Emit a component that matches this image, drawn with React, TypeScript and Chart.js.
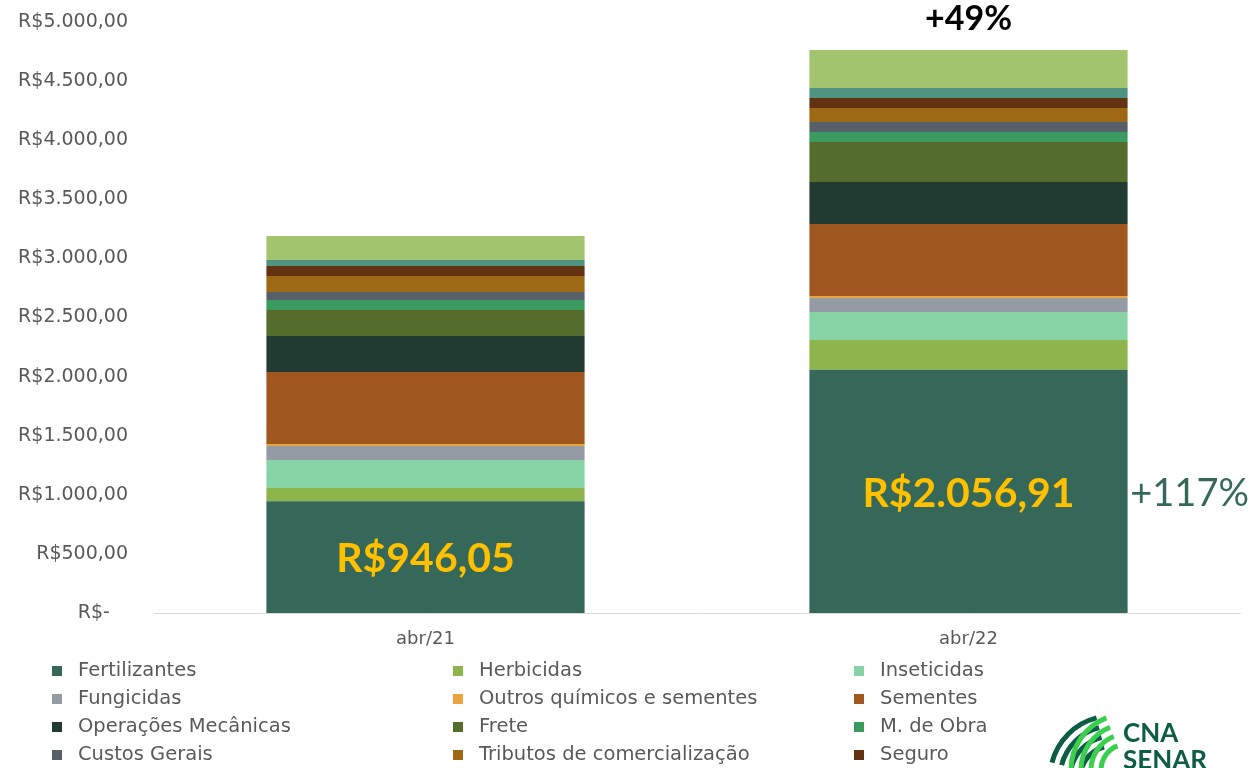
import React, { useEffect, useRef } from "react";
import { Chart, registerables } from "chart.js";

Chart.register(...registerables);

// ---- data ----
const categories = ["abr/21", "abr/22"];

const fertilizantes = [946.05, 2056.91];
const herbicidas = [111, 253];
const inseticidas = [237, 237];
const fungicidas = [119, 118];
const outrosQuimicos = [17, 17];
const sementes = [609, 609];
const operacoesMecanicas = [304, 355];
const frete = [220, 339];
const maoDeObra = [85, 84];
const custosGerais = [68, 85];
const tributos = [135, 118];
const seguro = [85, 85];
const assistenciaTecnica = [50, 85];
const juros = [204, 321];

const seriesNames = [
  "Fertilizantes",
  "Herbicidas",
  "Inseticidas",
  "Fungicidas",
  "Outros químicos e sementes",
  "Sementes",
  "Operações Mecânicas",
  "Frete",
  "M. de Obra",
  "Custos Gerais",
  "Tributos de comercialização",
  "Seguro",
  "Assistência técnica",
  "Juros",
];
const seriesValues = [
  fertilizantes,
  herbicidas,
  inseticidas,
  fungicidas,
  outrosQuimicos,
  sementes,
  operacoesMecanicas,
  frete,
  maoDeObra,
  custosGerais,
  tributos,
  seguro,
  assistenciaTecnica,
  juros,
];
const seriesColors = [
  "#36685a",
  "#8db54b",
  "#86d4a6",
  "#959ba5",
  "#eaa540",
  "#a0561f",
  "#213b33",
  "#546d2d",
  "#3a9a60",
  "#575f68",
  "#9e6915",
  "#623313",
  "#4e9480",
  "#a3c46e",
];
const legendCount = 12;

const yTicks = [0, 500, 1000, 1500, 2000, 2500, 3000, 3500, 4000, 4500, 5000];
const totalGrowthLabel = "+49%";
const fertGrowthLabel = "+117%";

const FONT = "Lato, 'Open Sans', sans-serif";
const SMALL_FONT = "'DejaVu Sans', sans-serif";

function fmtBRL(v: number): string {
  const fixed = v.toFixed(2);
  const [intPart, dec] = fixed.split(".");
  const withDots = intPart.replace(/\B(?=(\d{3})+(?!\d))/g, ".");
  return withDots + "," + dec;
}

const overlayPlugin = {
  id: "overlay",
  afterDraw(chart: any) {
    const ctx = chart.ctx;
    const xs = chart.scales.x;
    const ys = chart.scales.y;
    ctx.save();
    // value labels inside Fertilizantes segment
    ctx.textAlign = "center";
    ctx.textBaseline = "middle";
    ctx.font = `bold 41px ${FONT}`;
    ctx.fillStyle = "#ffc000";
    fertilizantes.forEach((v, i) => {
      const x = xs.getPixelForValue(i);
      const y = (ys.getPixelForValue(0) + ys.getPixelForValue(v)) / 2;
      ctx.fillText("R$" + fmtBRL(v), x, y + 2);
    });
    // growth of Fertilizantes
    const meta = chart.getDatasetMeta(0);
    const bar2 = meta.data[1];
    const yF = (ys.getPixelForValue(0) + ys.getPixelForValue(fertilizantes[1])) / 2;
    ctx.font = `38px ${FONT}`;
    ctx.fillStyle = "#36685a";
    ctx.fillText(fertGrowthLabel, bar2.x + bar2.width / 2 + 62, yF + 2);
    // total growth
    const totals = categories.map((_, i) => seriesValues.reduce((s, arr) => s + arr[i], 0));
    ctx.font = `bold 34px ${FONT}`;
    ctx.fillStyle = "#000000";
    ctx.fillText(totalGrowthLabel, xs.getPixelForValue(1), ys.getPixelForValue(totals[1]) - 31);

    // legend grid
    const colBox = [52, 453, 854];
    ctx.font = `19.5px ${SMALL_FONT}`;
    ctx.textAlign = "left";
    for (let i = 0; i < legendCount; i++) {
      const col = i % 3;
      const row = Math.floor(i / 3);
      const cy = 671 + row * 28;
      ctx.fillStyle = seriesColors[i];
      ctx.fillRect(colBox[col], cy - 5, 10, 10);
      ctx.fillStyle = "#595959";
      ctx.fillText(seriesNames[i], colBox[col] + 26, cy);
    }

    // logo
    ctx.lineWidth = 5;
    ctx.lineCap = "butt";
    [62, 52, 42, 32].forEach((r) => {
      ctx.strokeStyle = "#0d5c44";
      ctx.beginPath();
      ctx.arc(1112, 778, r, Math.PI * 1.08, Math.PI * 1.42);
      ctx.stroke();
    });
    [56, 46, 36, 26].forEach((r) => {
      ctx.strokeStyle = "#3ccf4e";
      ctx.beginPath();
      ctx.arc(1127, 770, r, Math.PI * 1.0, Math.PI * 1.38);
      ctx.stroke();
    });
    ctx.fillStyle = "#0d5c44";
    ctx.font = `bold 26px ${FONT}`;
    ctx.textBaseline = "alphabetic";
    ctx.fillText("CNA", 1123, 742);
    ctx.fillText("SENAR", 1123, 769);
    ctx.restore();
  },
};

export default function App() {
  const ref = useRef<HTMLCanvasElement | null>(null);
  useEffect(() => {
    document.body.style.margin = "0";
    if (!ref.current) return;
    const chart = new Chart(ref.current, {
      type: "bar",
      data: {
        labels: categories,
        datasets: seriesNames.map((name, i) => ({
          label: name,
          data: seriesValues[i],
          backgroundColor: seriesColors[i],
          borderWidth: 0,
          categoryPercentage: 1,
          barPercentage: 0.586,
        })),
      },
      options: {
        animation: false,
        responsive: true,
        maintainAspectRatio: false,
        layout: { padding: { top: 22, right: 14, bottom: 110, left: 0 } },
        plugins: {
          legend: { display: false },
          tooltip: { enabled: false },
        },
        scales: {
          x: {
            stacked: true,
            grid: { display: false, drawTicks: false },
            border: { display: true, color: "#d9d9d9", width: 1 },
            ticks: { color: "#595959", font: { family: SMALL_FONT, size: 18 }, padding: 16 },
            afterFit: (s: any) => {
              s.height = 45;
              s.paddingTop = 0;
            },
          },
          y: {
            stacked: true,
            min: 0,
            max: 5000,
            afterBuildTicks: (s: any) => {
              s.ticks = yTicks.map((v) => ({ value: v }));
            },
            grid: { display: false, drawTicks: false },
            border: { display: false },
            ticks: {
              color: "#595959",
              font: { family: SMALL_FONT, size: 19 },
              padding: 26,
              callback: (v: any) => (Number(v) === 0 ? "R$-   " : "R$" + fmtBRL(Number(v))),
            },
            afterFit: (s: any) => {
              s.width = 154;
              s.paddingTop = 0;
              s.paddingBottom = 0;
            },
          },
        },
      },
      plugins: [overlayPlugin],
    });
    return () => chart.destroy();
  }, []);
  return (
    <div style={{ width: 1254, height: 768, position: "relative" }}>
      <canvas ref={ref} />
    </div>
  );
}
